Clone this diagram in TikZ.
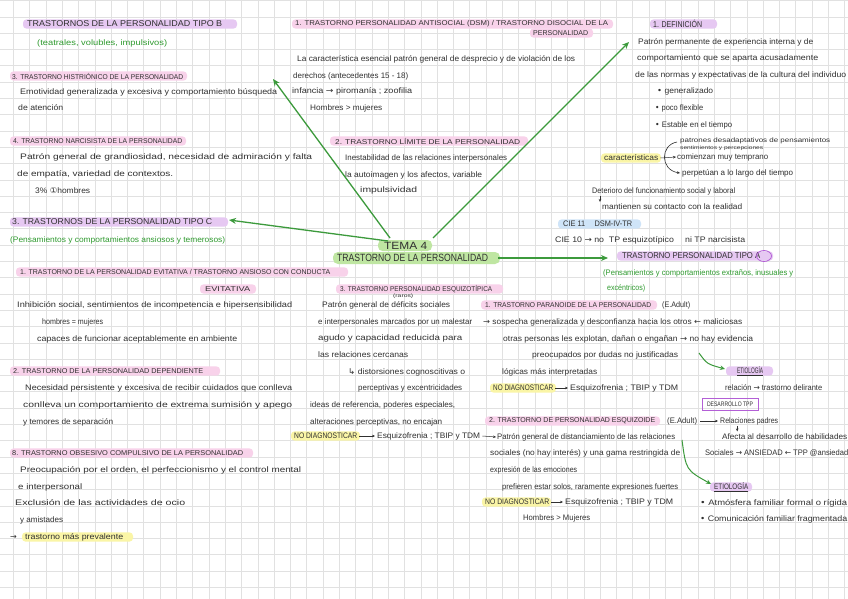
\documentclass[tikz,border=0pt]{standalone}
\usepackage{fontspec}
\setmainfont{Liberation Sans}
\newfontfamily\symf{DejaVu Sans}
\usetikzlibrary{arrows.meta}
\definecolor{ink}{HTML}{303030}
\definecolor{grtext}{HTML}{2E9A2E}
\definecolor{arrg}{HTML}{3C9A3C}
\definecolor{hlpink}{HTML}{F8D2EA}
\definecolor{hllav}{HTML}{E6C8F2}
\definecolor{hlgreen}{HTML}{BFE6A2}
\definecolor{hlyel}{HTML}{FAF5A6}
\definecolor{hlblue}{HTML}{CFE4F8}
\definecolor{gridc}{HTML}{E1E1E1}
\definecolor{boxpur}{HTML}{B35FD6}
\newcommand{\W}[2]{\resizebox{#1pt}{\height}{#2}}
\newcommand{\ar}{{\symf →}}
\newcommand{\al}{{\symf ←}}
\newcommand{\HL}[4]{\fill[#1, rounded corners=3.5pt] (#2,#4-4.6) rectangle (#3,#4+4.6);}
\tikzset{
  tx/.style={anchor=west, inner sep=0pt, text=ink, font=\fontsize{8}{9}\selectfont},
  hd/.style={tx, font=\fontsize{7}{8}\selectfont},
  hdb/.style={tx, font=\fontsize{8.5}{9}\selectfont},
  hdc/.style={tx, font=\fontsize{10.5}{12}\selectfont},
  gt/.style={tx, text=grtext},
  small/.style={tx, font=\fontsize{6.5}{7}\selectfont},
  tiny/.style={tx, font=\fontsize{5}{5.5}\selectfont},
  bigarrow/.style={draw=arrg, line width=1.3pt, -{Stealth[length=7pt,width=6pt]}},
  garrow/.style={draw=arrg, line width=1pt, -{Stealth[length=5pt,width=4.5pt]}},
  tarrow/.style={draw=ink, line width=0.5pt, -{Stealth[length=3pt,width=2.6pt]}}
}
\begin{document}
\begin{tikzpicture}[x=1pt,y=-1pt]
\useasboundingbox (0,0) rectangle (848,599);
\fill[white] (0,0) rectangle (848,599);
% grid
\foreach \i in {0,...,51} {\draw[gridc, line width=0.5pt] (13.3+16.3*\i,0) -- (13.3+16.3*\i,599);}
\foreach \j in {0,...,36} {\draw[gridc, line width=0.5pt] (0,0.5+16.3*\j) -- (848,0.5+16.3*\j);}

% ================= highlights =================
\HL{hllav}{23}{237}{24}
\HL{hlpink}{10}{187}{76}
\HL{hlpink}{10}{186}{141}
\HL{hllav}{10}{228}{222}
\HL{hlpink}{16}{348}{272}
\HL{hlpink}{200}{256}{289}
\HL{hlpink}{10}{220}{371}
\HL{hlpink}{10}{253}{453}
\HL{hlyel}{22}{133}{537}
\HL{hlpink}{292}{613}{24}
\HL{hlpink}{530}{593}{33}
\HL{hlpink}{330}{528}{141}
\fill[hlgreen, rounded corners=4.5pt] (378,240) rectangle (432,251);
\fill[hlgreen, rounded corners=5pt] (333,252) rectangle (500,264);
\HL{hlpink}{336}{503}{289}
\HL{hlyel}{291}{360}{436}
\HL{hllav}{650}{717}{24}
\HL{hlyel}{601}{661}{158}
\HL{hlblue}{558}{641}{224}
\HL{hllav}{617}{773}{256}
\HL{hlpink}{481}{657}{305}
\HL{hlyel}{490}{556}{388}
\HL{hllav}{726}{773}{371}
\HL{hlpink}{485}{660}{421}
\HL{hlyel}{482}{551}{502}
\HL{hllav}{710}{752}{487}

% ================= left column =================
\node[hdb] (tb) at (27,24) {\W{195}{TRASTORNOS DE LA PERSONALIDAD TIPO B}};
\node[gt] (tbg) at (37,43) {\W{130}{(teatrales, volubles, impulsivos)}};
\node[hd] (his) at (12,76) {\W{171}{3. TRASTORNO HISTRIÓNICO DE LA PERSONALIDAD}};
\node[tx] (his1) at (20,92) {\W{257}{Emotividad generalizada y excesiva y comportamiento búsqueda}};
\node[tx] (his2) at (18,108) {\W{45}{de atención}};
\node[hd] (nar) at (13,141) {\W{169}{4. TRASTORNO NARCISISTA DE LA PERSONALIDAD}};
\node[tx] (nar1) at (20,157) {\W{292}{Patrón general de grandiosidad, necesidad de admiración y falta}};
\node[tx] (nar2) at (17,174) {\W{156}{de empatía, variedad de contextos.}};
\node[tx] (nar3) at (35,191) {\W{55}{3\% {\symf ①}hombres}};
\node[hdb] (tc) at (12,222) {\W{200}{3. TRASTORNOS DE LA PERSONALIDAD TIPO C}};
\node[gt] (tcg) at (10,240) {\W{215}{(Pensamientos y comportamientos ansiosos y temerosos)}};
\node[hd] (evi) at (20,272) {\W{310}{1. TRASTORNO DE LA PERSONALIDAD EVITATIVA / TRASTORNO ANSIOSO CON CONDUCTA}};
\node[hd] (evi0) at (205,289) {\W{45}{EVITATIVA}};
\node[tx] (evi1) at (17,305) {\W{275}{Inhibición social, sentimientos de incompetencia e hipersensibilidad}};
\node[tx] (evi2) at (42,322) {\W{61}{hombres = mujeres}};
\node[tx] (evi3) at (37,339) {\W{200}{capaces de funcionar aceptablemente en ambiente}};
\node[hd] (dep) at (13,371) {\W{190}{2. TRASTORNO DE LA PERSONALIDAD DEPENDIENTE}};
\node[tx] (dep1) at (25,388) {\W{267}{Necesidad persistente y excesiva de recibir cuidados que conlleva}};
\node[tx] (dep2) at (23,405) {\W{269}{conlleva un comportamiento de extrema sumisión y apego}};
\node[tx] (dep3) at (23,422) {\W{90}{y temores de separación}};
\node[hd] (obs) at (12,453) {\W{231}{8. TRASTORNO OBSESIVO COMPULSIVO DE LA PERSONALIDAD}};
\node[tx] (obs1) at (20,470) {\W{281}{Preocupación por el orden, el perfeccionismo y el control mental}};
\node[tx] (obs2) at (18,487) {\W{64}{e interpersonal}};
\node[tx] (obs3) at (15,503) {\W{170}{Exclusión de las actividades de ocio}};
\node[tx] (obs4) at (20,520) {\W{43}{y amistades}};
\node[tx] (obs5a) at (10,537) {\ar};
\node[tx] (obs5) at (25,537) {\W{98}{trastorno más prevalente}};

% ================= middle column =================
\node[hd] (ant) at (295,24) {\W{313}{1. TRASTORNO PERSONALIDAD ANTISOCIAL (DSM) / TRASTORNO DISOCIAL DE LA}};
\node[hd] (ant0) at (533,33) {\W{55}{PERSONALIDAD}};
\node[tx] (ant1) at (297,59) {\W{278}{La característica esencial patrón general de desprecio y de violación de los}};
\node[tx] (ant2) at (293,76) {\W{115}{derechos (antecedentes 15 - 18)}};
\node[tx] (ant3) at (292,91) {\W{120}{infancia \ar{} piromanía ; zoofilia}};
\node[tx] (ant4) at (310,108) {\W{72}{Hombres > mujeres}};
\node[hd] (lim) at (335,141) {\W{185}{2. TRASTORNO LÍMITE DE LA PERSONALIDAD}};
\node[tx] (lim1) at (345,158) {\W{162}{Inestabilidad de las relaciones interpersonales}};
\node[tx] (lim2) at (345,175) {\W{137}{la autoimagen y los afectos, variable}};
\node[tx] (lim3) at (360,190) {\W{57}{impulsividad}};
\node[hdc] (tema) at (384,245.5) {\W{43}{TEMA 4}};
\node[hdc] (tp) at (337,258) {\W{151}{TRASTORNO DE LA PERSONALIDAD}};
\node[hd] (esq) at (340,289) {\W{152}{3. TRASTORNO PERSONALIDAD ESQUIZOTÍPICA}};
\node[tiny] (esq0) at (393,296.5) {\W{20}{(raros)}};
\node[tx] (esq1) at (322,305) {\W{128}{Patrón general de déficits sociales}};
\node[tx] (esq2) at (318,322) {\W{154}{e interpersonales marcados por un malestar}};
\node[tx] (esq3) at (318,338) {\W{144}{agudo y capacidad reducida para}};
\node[tx] (esq4) at (318,355) {\W{90}{las relaciones cercanas}};
\node[tx] (esq5) at (348,372) {\W{117}{{\symf ↳} distorsiones cognoscitivas o}};
\node[tx] (esq6) at (358,388) {\W{104}{perceptivas y excentricidades}};
\node[tx] (esq7) at (310,405) {\W{145}{ideas de referencia, poderes especiales,}};
\node[tx] (esq8) at (310,422) {\W{132}{alteraciones perceptivas, no encajan}};
\node[tx] (nd1) at (294,436) {\W{63}{NO DIAGNOSTICAR}};
\node[tx] (eq1) at (377,436) {\W{103}{Esquizofrenia ; TBIP y TDM}};

% ================= right column =================
\node[hdb] (def) at (653,24) {\W{49}{1. DEFINICIÓN}};
\node[tx] (def1) at (638,42) {\W{175}{Patrón permanente de experiencia interna y de}};
\node[tx] (def2) at (637,58) {\W{181}{comportamiento que se aparta acusadamente}};
\node[tx] (def3) at (635,75) {\W{211}{de las normas y expectativas de la cultura del individuo}};
\node[tx] (def4) at (657,91) {\W{56}{{\symf •} generalizado}};
\node[tx] (def5) at (655,108) {\W{48}{{\symf •} poco flexible}};
\node[tx] (def6) at (655,125) {\W{77}{{\symf •} Estable en el tiempo}};
\node[small] (pat) at (680,141) {\W{150}{patrones desadaptativos de pensamientos}};
\node[tiny] (pat2) at (680,148) {\W{83}{sentimientos y percepciones}};
\node[tx] (car) at (604,158) {\W{54}{características}};
\node[tx] (com) at (677,157) {\W{91}{comienzan muy temprano}};
\node[tx] (per) at (682,173) {\W{111}{perpetúan a lo largo del tiempo}};
\node[tx] (det) at (592,191) {\W{143}{Deterioro del funcionamiento social y laboral}};
\node[tx] (man) at (602,207) {\W{140}{mantienen su contacto con la realidad}};
\node[tx] (cie) at (563,224) {\W{69}{CIE 11 \quad DSM-IV-TR}};
\node[tx] (cie10) at (555,240) {\W{190}{CIE 10 \ar{} no \ TP esquizotípico \quad ni TP narcisista}};
\node[hdb] (ta) at (622,256) {\W{138}{TRASTORNO PERSONALIDAD TIPO A}};
\draw[boxpur, line width=0.8pt] (764,256) ellipse (7.5 and 5.5);
\node[gt] (tag) at (603,273) {\W{190}{(Pensamientos y comportamientos extraños, inusuales y}};
\node[gt] (tag2) at (607,288) {\W{38}{excéntricos)}};
\node[hd] (par) at (485,305) {\W{166}{1. TRASTORNO PARANOIDE DE LA PERSONALIDAD}};
\node[tx] (par0) at (662,305) {\W{28}{(E.Adult)}};
\node[tx] (par1) at (483,322) {\W{259}{\ar{} sospecha generalizada y desconfianza hacia los otros \al{} maliciosas}};
\node[tx] (par2) at (503,339) {\W{250}{otras personas les explotan, dañan o engañan \ar{} no hay evidencia}};
\node[tx] (par3) at (532,355) {\W{146}{preocupados por dudas no justificadas}};
\node[tx] (par4) at (502,372) {\W{95}{lógicas más interpretadas}};
\node[tx] (nd2) at (493,388) {\W{60}{NO DIAGNOSTICAR}};
\node[tx] (eq2) at (570,388) {\W{108}{Esquizofrenia ; TBIP y TDM}};
\node[tx] (eti1) at (737,371) {\W{26}{\underline{ETIOLOGÍA}}};
\node[tx] (rel) at (725,388) {\W{97}{relación \ar{} trastorno delirante}};
\node[draw=boxpur, line width=0.7pt, inner sep=0pt, minimum width=56pt, minimum height=12pt, text=ink, font=\fontsize{6.5}{7}\selectfont] (dtpp) at (730,404) {\W{46}{DESARROLLO TPP}};
\node[hd] (szd) at (489,421) {\W{166}{2. TRASTORNO DE PERSONALIDAD ESQUIZOIDE}};
\node[tx] (szd0) at (667,421) {\W{30}{(E.Adult)}};
\node[tx] (relp) at (720,421) {\W{58}{Relaciones padres}};
\node[tx] (afe) at (722,437) {\W{125}{Afecta al desarrollo de habilidades}};
\node[tx] (soc) at (705,453) {\W{143}{Sociales \ar{} ANSIEDAD \al{} TPP @ansiedad}};
\node[tx] (szd1) at (497,437) {\W{178}{Patrón general de distanciamiento de las relaciones}};
\node[tx] (szd2) at (490,453) {\W{190}{sociales (no hay interés) y una gama restringida de}};
\node[tx] (szd3) at (490,470) {\W{87}{expresión de las emociones}};
\node[tx] (szd4) at (502,487) {\W{176}{prefieren estar solos, raramente expresiones fuertes}};
\node[tx] (nd3) at (485,502) {\W{64}{NO DIAGNOSTICAR}};
\node[tx] (eq3) at (565,502) {\W{108}{Esquizofrenia ; TBIP y TDM}};
\node[tx] (szd5) at (523,518) {\W{67}{Hombres > Mujeres}};
\node[tx] (eti2) at (714,487) {\W{34}{\underline{ETIOLOGÍA}}};
\node[tx] (atm) at (700,503) {\W{147}{{\symf •} Atmósfera familiar formal o rígida}};
\node[tx] (cmf) at (700,519) {\W{147}{{\symf •} Comunicación familiar fragmentada}};

% ================= connectors =================
\coordinate (a1s) at (390,238);
\coordinate (a1e) at (273,79);
\coordinate (a2s) at (433,238);
\coordinate (a2e) at (629,42);
\coordinate (a3s) at (388,241);
\coordinate (a3e) at (229,220);
\coordinate (a4s) at (498,258);
\coordinate (a4e) at (608,258);
\draw[bigarrow] (a1s) -- (a1e);
\draw[bigarrow] (a2s) -- (a2e);
\draw[bigarrow] (a3s) -- (a3e);
\draw[bigarrow] (a4s) -- (a4e);

\coordinate (c1s) at (699,353);
\coordinate (c1e) at (725,369);
\draw[garrow] (c1s) .. controls (707,364) .. (c1e);
\coordinate (c2s) at (682,440);
\coordinate (c2e) at (711,484);
\draw[garrow] (c2s) .. controls (686,470) .. (c2e);

\draw[tarrow] ([xshift=2pt]nd1.east) -- ([xshift=-2pt]eq1.west);
\draw[tarrow] ([xshift=2pt]eq1.east) -- ([xshift=-1pt]szd1.west);
\draw[tarrow] ([xshift=2pt]nd2.east) -- ([xshift=-2pt]eq2.west);
\draw[tarrow] ([xshift=2pt]nd3.east) -- ([xshift=-2pt]eq3.west);
\draw[tarrow] ([xshift=2pt]car.east) -- ([xshift=-1pt]com.west);
\draw[tarrow] ([xshift=3pt]szd0.east) -- ([xshift=-2pt]relp.west);
\draw[tarrow] ([xshift=-2pt]det.south west) ++(10,1) -- ++(0,6);
\draw[tarrow] (relp.south) ++(-12,1) -- ++(0,5.5);
% bracket
\coordinate (brt) at (677,142);
\coordinate (brb) at (680,173);
\draw[ink, line width=0.6pt, -{Stealth[length=3pt,width=2.6pt]}] (brt) .. controls (660,145) and (660,170) .. (brb);
\end{tikzpicture}
\end{document}
